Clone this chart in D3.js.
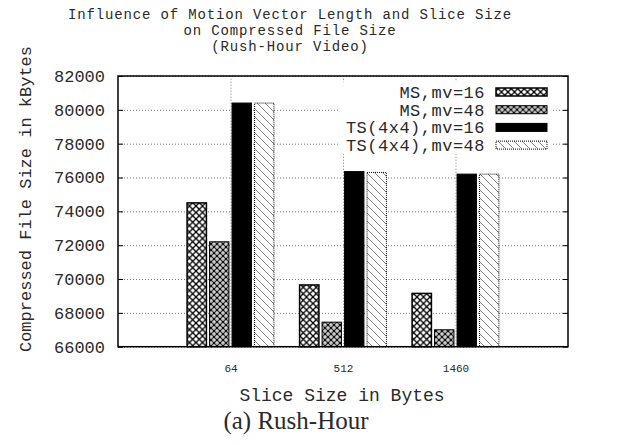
<!DOCTYPE html>
<html>
<head>
<meta charset="utf-8">
<script src="https://cdn.jsdelivr.net/npm/d3@7"></script>
<style>
  body { margin: 0; background: #fff; }
  text { font-family: "Liberation Mono", "DejaVu Sans Mono", monospace; fill: #2a2a2a; }
</style>
</head>
<body>
<div id="chart"></div>
<script>
// data
var sliceSizes = ["64", "512", "1460"];
var seriesNames = ["MS,mv=16", "MS,mv=48", "TS(4x4),mv=16", "TS(4x4),mv=48"];
var msMv16 = [74500, 69650, 69150];
var msMv48 = [72200, 67450, 67000];
var tsMv16 = [80400, 76350, 76200];
var tsMv48 = [80400, 76300, 76200];
var yTicks = [66000, 68000, 70000, 72000, 74000, 76000, 78000, 80000, 82000];
var titleLines = ["Influence of Motion Vector Length and Slice Size", "on Compressed File Size", "(Rush-Hour Video)"];

var series = [msMv16, msMv48, tsMv16, tsMv48];
var fills = ["url(#pCross)", "url(#pDense)", "#000", "url(#pDiag)"];

var W = 622, H = 445;
var margin = {top: 76, right: 54, bottom: 98.3, left: 118};
var width = W - margin.left - margin.right,
    height = H - margin.top - margin.bottom;

var svg = d3.select('#chart').append('svg').attr('width', W).attr('height', H);

// fill patterns, gnuplot style
var defs = svg.append('defs');
var p1 = defs.append('pattern').attr('id', 'pCross').attr('patternUnits', 'userSpaceOnUse')
  .attr('width', 6.5).attr('height', 6.5);
p1.append('rect').attr('width', 6.5).attr('height', 6.5).attr('fill', '#fff');
p1.append('path').attr('d', 'M0,0L6.5,6.5M6.5,0L0,6.5').attr('stroke', '#000').attr('stroke-width', 1.3);

var p2 = defs.append('pattern').attr('id', 'pDense').attr('patternUnits', 'userSpaceOnUse')
  .attr('width', 6).attr('height', 6);
p2.append('rect').attr('width', 6).attr('height', 6).attr('fill', '#111');
[[3, 3], [0, 0], [6, 0], [0, 6], [6, 6]].forEach(function (c) {
  p2.append('circle').attr('cx', c[0]).attr('cy', c[1]).attr('r', 1.7).attr('fill', '#fff');
  p2.append('circle').attr('cx', c[0]).attr('cy', c[1]).attr('r', 0.6).attr('fill', '#111');
});

var p4 = defs.append('pattern').attr('id', 'pDiag').attr('patternUnits', 'userSpaceOnUse')
  .attr('width', 8).attr('height', 8);
p4.append('rect').attr('width', 8).attr('height', 8).attr('fill', '#fff');
p4.append('path').attr('d', 'M0,0L8,8M-1,7L1,9M7,-1L9,1').attr('stroke', '#666').attr('stroke-width', 0.8);

var g = svg.append('g').attr('transform', 'translate(' + margin.left + ',' + margin.top + ')');

var x = d3.scaleLinear().domain([0, 4]).range([0, width]);
var y = d3.scaleLinear().domain([66000, 82000]).range([height, 0]);

// grid
var gridY = g.append('g').call(d3.axisLeft(y).tickValues(yTicks).tickSize(-width).tickFormat(''));
var gridX = g.append('g').attr('transform', 'translate(0,' + height + ')')
  .call(d3.axisBottom(x).tickValues([1, 2, 3]).tickSize(-height).tickFormat(''));
[gridX, gridY].forEach(function (a) {
  a.select('.domain').remove();
  a.selectAll('line').attr('stroke', '#777').attr('stroke-width', 1).attr('stroke-dasharray', '1,2');
});

// legend (opaque box hides the grid)
g.append('rect').attr('x', 222).attr('y', 6).attr('width', 212).attr('height', 72).attr('fill', '#fff');

// bars
var barStep = 0.2, barW = 0.172;
series.forEach(function (vals, s) {
  g.selectAll('.bar' + s).data(vals).enter().append('rect')
    .attr('class', 'bar' + s)
    .attr('x', function (d, i) { return x(i + 1 + (s - 1.5) * barStep - barW / 2); })
    .attr('width', x(barW) - x(0))
    .attr('y', function (d) { return y(d); })
    .attr('height', function (d) { return height - y(d); })
    .attr('fill', fills[s])
    .attr('stroke', '#000')
    .attr('stroke-width', s === 0 ? 1.5 : 1)
    .attr('stroke-dasharray', s === 3 ? '1,1' : null);
});

// y axis labels and inside ticks, left and right
var axY = g.append('g').call(d3.axisLeft(y).tickValues(yTicks).tickSizeInner(-5).tickSizeOuter(0).tickPadding(13).tickFormat(d3.format('d')));
axY.select('.domain').remove();
axY.selectAll('text').style('font-size', '17px').attr('fill', '#2a2a2a');
var axY2 = g.append('g').attr('transform', 'translate(' + width + ',0)')
  .call(d3.axisRight(y).tickValues(yTicks).tickSizeInner(-5).tickSizeOuter(0).tickFormat(''));
axY2.select('.domain').remove();

// x axis labels
var axX = g.append('g').attr('transform', 'translate(0,' + height + ')')
  .call(d3.axisBottom(x).tickValues([1, 2, 3]).tickSize(0).tickPadding(18)
    .tickFormat(function (d) { return sliceSizes[d - 1]; }));
axX.select('.domain').remove();
axX.selectAll('text').style('font-size', '11px').attr('fill', '#2a2a2a');

// border
g.append('rect').attr('width', width).attr('height', height)
  .attr('fill', 'none').attr('stroke', '#000').attr('stroke-width', 1.5);

// legend entries
var leg = g.selectAll('.leg').data(seriesNames).enter().append('g')
  .attr('transform', function (d, i) { return 'translate(0,' + (16 + i * 17.7) + ')'; });
leg.append('text').attr('x', 367).attr('y', 0).attr('dy', '0.35em')
  .attr('text-anchor', 'end').style('font-size', '17px').style('letter-spacing', '0.5px')
  .text(function (d) { return d; });
leg.append('rect').attr('x', 378).attr('y', -4).attr('width', 51).attr('height', 8)
  .attr('fill', function (d, i) { return fills[i]; })
  .attr('stroke', '#000').attr('stroke-width', function (d, i) { return i === 0 ? 1.5 : 1; })
  .attr('stroke-dasharray', function (d, i) { return i === 3 ? '1,1' : null; });

// titles
svg.selectAll('.title').data(titleLines).enter().append('text')
  .attr('x', 290).attr('y', function (d, i) { return 19 + i * 16; })
  .attr('text-anchor', 'middle').style('font-size', '14px').style('letter-spacing', '0.85px')
  .text(function (d) { return d; });

svg.append('text').attr('transform', 'translate(25,199) rotate(-90)')
  .attr('text-anchor', 'middle').attr('dy', '0.35em').style('font-size', '17px')
  .text('Compressed File Size in kBytes');

svg.append('text').attr('x', 342).attr('y', 401).attr('text-anchor', 'middle')
  .style('font-size', '18px').text('Slice Size in Bytes');

svg.append('text').attr('x', 296).attr('y', 429).attr('text-anchor', 'middle')
  .style('font-family', '"Liberation Serif", serif').style('font-size', '25px').attr('fill', '#000')
  .text('(a) Rush-Hour');
</script>
</body>
</html>
